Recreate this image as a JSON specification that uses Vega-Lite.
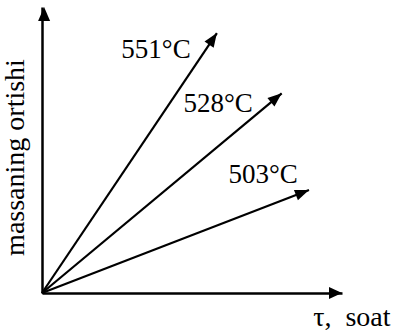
{
  "$schema": "https://vega.github.io/schema/vega-lite/v6.json",
  "width": 300,
  "height": 286,
  "autosize": {"type": "none"},
  "padding": {"left": 42, "top": 7, "right": 51, "bottom": 38},
  "background": "white",
  "config": {"view": {"stroke": null}, "font": "Liberation Serif"},
  "datasets": {
    "lines": [
      {"series": "551°C", "t": 0, "m": 0},
      {"series": "551°C", "t": 58.3, "m": 90.9},
      {"series": "528°C", "t": 0, "m": 0},
      {"series": "528°C", "t": 79.9, "m": 69.8},
      {"series": "503°C", "t": 0, "m": 0},
      {"series": "503°C", "t": 89, "m": 36.0}
    ],
    "labels": [
      {"label": "551°C", "t": 38, "m": 82.2},
      {"label": "528°C", "t": 58.7, "m": 63.3},
      {"label": "503°C", "t": 73.7, "m": 38.5}
    ],
    "axisEnds": [
      {"axis": "y", "t": 0.7, "m": 100},
      {"axis": "x", "t": 100, "m": 0}
    ]
  },
  "encoding": {
    "x": {
      "field": "t", "type": "quantitative",
      "scale": {"domain": [0, 100], "nice": false, "zero": false},
      "axis": {
        "title": "τ,\u00a0\u00a0soat",
        "domain": true, "domainColor": "black", "domainWidth": 2.5,
        "ticks": false, "labels": false, "grid": false,
        "titleFont": "Liberation Serif", "titleFontSize": 28, "titleFontWeight": "normal",
        "titleColor": "black", "titleAlign": "right", "titleAnchor": "end",
        "titleX": 348, "titleY": 32, "titleBaseline": "alphabetic"
      }
    },
    "y": {
      "field": "m", "type": "quantitative",
      "scale": {"domain": [0, 100], "nice": false, "zero": false},
      "axis": {
        "title": "massaning ortishi",
        "domain": true, "domainColor": "black", "domainWidth": 2.5,
        "ticks": false, "labels": false, "grid": false,
        "titleFont": "Liberation Serif", "titleFontSize": 28, "titleFontWeight": "normal",
        "titleColor": "black", "titlePadding": 13, "titleY": 150
      }
    }
  },
  "layer": [
    {
      "data": {"name": "lines"},
      "mark": {"type": "line", "color": "black", "strokeWidth": 2.2},
      "encoding": {"detail": {"field": "series"}}
    },
    {
      "data": {"name": "lines"},
      "transform": [{"filter": "datum.series === '551°C' && datum.t > 0"}],
      "mark": {"type": "point", "shape": "M0,0L-0.55,1.4L0.55,1.4Z", "filled": true, "color": "black", "opacity": 1, "size": 400, "angle": 33.9}
    },
    {
      "data": {"name": "lines"},
      "transform": [{"filter": "datum.series === '528°C' && datum.t > 0"}],
      "mark": {"type": "point", "shape": "M0,0L-0.55,1.4L0.55,1.4Z", "filled": true, "color": "black", "opacity": 1, "size": 400, "angle": 50.2}
    },
    {
      "data": {"name": "lines"},
      "transform": [{"filter": "datum.series === '503°C' && datum.t > 0"}],
      "mark": {"type": "point", "shape": "M0,0L-0.55,1.4L0.55,1.4Z", "filled": true, "color": "black", "opacity": 1, "size": 400, "angle": 69.0}
    },
    {
      "data": {"name": "axisEnds"},
      "transform": [{"filter": "datum.axis === 'y'"}],
      "mark": {"type": "point", "shape": "M0,0L-0.6,1.4L0.6,1.4Z", "filled": true, "color": "black", "opacity": 1, "size": 400, "angle": 0}
    },
    {
      "data": {"name": "axisEnds"},
      "transform": [{"filter": "datum.axis === 'x'"}],
      "mark": {"type": "point", "shape": "M0,0L-0.6,1.3L0.6,1.3Z", "filled": true, "color": "black", "opacity": 1, "size": 400, "angle": 90}
    },
    {
      "data": {"name": "labels"},
      "mark": {"type": "text", "font": "Liberation Serif", "fontSize": 27, "align": "center", "baseline": "alphabetic", "color": "black"},
      "encoding": {"text": {"field": "label"}}
    }
  ]
}
